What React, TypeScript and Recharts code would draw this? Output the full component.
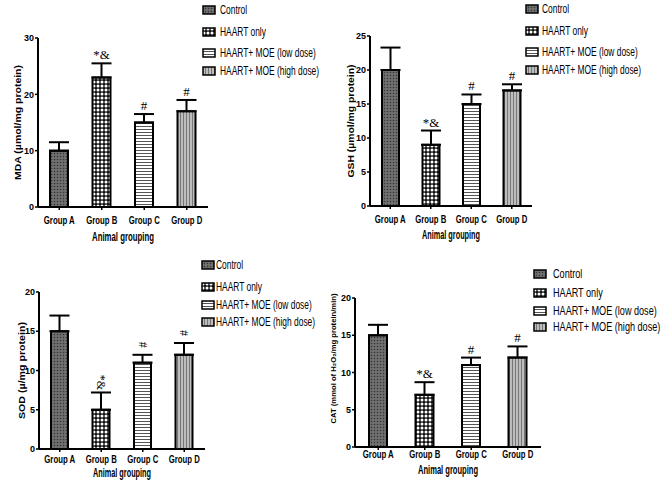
import React from 'react';
import { BarChart, Bar, XAxis, YAxis, Cell, ErrorBar, LabelList } from 'recharts';

// ---------- data ----------
const groups = ['Group A', 'Group B', 'Group C', 'Group D'];
const seriesNames = ['Control', 'HAART only', 'HAART+ MOE (low dose)', 'HAART+ MOE (high dose)'];
const xAxisTitle = 'Animal grouping';

const mdaValues = [10, 23, 15, 17];
const mdaErrors = [1.5, 2.5, 1.5, 2];
const mdaMarks = ['', '*&', '#', '#'];
const mdaTicks = [0, 10, 20, 30];

const gshValues = [20, 9, 15, 17];
const gshErrors = [3.3, 2.1, 1.4, 0.9];
const gshMarks = ['', '*&', '#', '#'];
const gshTicks = [0, 5, 10, 15, 20, 25];

const sodValues = [15, 5, 11, 12];
const sodErrors = [2, 2.2, 1, 1.5];
const sodMarks = ['', '*&', '#', '#'];
const sodTicks = [0, 5, 10, 15, 20];

const catValues = [15, 7, 11, 12];
const catErrors = [1.4, 1.7, 1, 1.5];
const catMarks = ['', '*&', '#', '#'];
const catTicks = [0, 5, 10, 15, 20];

// ---------- styles ----------
const SANS = '"Liberation Sans", Arial, sans-serif';
const SERIF = '"Liberation Serif", "Times New Roman", serif';
const patternIds = ['pControl', 'pHaart', 'pLow', 'pHigh'];

function Patterns() {
  return (
    <svg width={0} height={0} style={{ position: 'absolute' }}>
      <defs>
        <pattern id="pControl" width={3} height={3} patternUnits="userSpaceOnUse">
          <rect width={3} height={3} fill="#666" />
          <rect width={1} height={1} fill="#333" />
          <rect x={1.5} y={1.5} width={1} height={1} fill="#8c8c8c" />
        </pattern>
        <pattern id="pHaart" width={4} height={4} patternUnits="userSpaceOnUse">
          <rect width={4} height={4} fill="#111" />
          <circle cx={2} cy={2} r={1.5} fill="#fff" />
        </pattern>
        <pattern id="pLow" width={3} height={3} patternUnits="userSpaceOnUse">
          <rect width={3} height={3} fill="#fff" />
          <rect width={3} height={1} fill="#555" />
        </pattern>
        <pattern id="pHigh" width={3} height={3} patternUnits="userSpaceOnUse">
          <rect width={3} height={3} fill="#bdbdbd" />
          <rect width={1} height={3} fill="#777" />
        </pattern>
      </defs>
    </svg>
  );
}

type Layout = {
  left: number; top: number; w: number; h: number;
  L: number; T: number; R: number; B: number;
  xAxisH: number; barSize: number; xTickDy: number;
  yLabelX: number; yLabelShift: number; yLabelSize: number; yLabelLen: number;
  xLabelLen: number;
  swatchX: number; textX: number; rows: number[]; legendFont: number;
  rotateMark?: boolean;
};

type PanelProps = {
  values: number[]; errors: number[]; marks: string[]; ticks: number[];
  yTitle: string; lay: Layout;
};

function Panel({ values, errors, marks, ticks, yTitle, lay }: PanelProps) {
  const rows = groups.map((g, i) => ({ group: g, value: values[i], err: [0, errors[i]], mark: marks[i] }));
  const yMax = ticks[ticks.length - 1];

  const markContent = (p: any) => {
    const i = p.index;
    const m = marks[i];
    if (!m) return null;
    const vb = p.viewBox && typeof p.viewBox.x === 'number' ? p.viewBox : p;
    const x = Number(vb.x), y = Number(vb.y), wd = Number(vb.width), ht = Number(vb.height);
    const errTop = y - (ht * errors[i]) / values[i];
    const cx = x + wd / 2;
    if (lay.rotateMark) {
      const cy = errTop - 10;
      return (
        <text x={cx} y={cy} transform={`rotate(90, ${cx}, ${cy})`} textAnchor="middle" dominantBaseline="central"
          fontSize={12} fontFamily={SERIF} fill="#000">{m}</text>
      );
    }
    return (
      <text x={cx} y={errTop - 4} textAnchor="middle" fontSize={13} fontFamily={SERIF} fill="#000">{m}</text>
    );
  };

  const yLabel = (p: any) => {
    const vb = p.viewBox || { x: 0, y: lay.T, width: lay.L, height: lay.B - lay.T };
    const cx = lay.yLabelX;
    const cy = vb.y + vb.height / 2 + lay.yLabelShift;
    return (
      <text x={cx} y={cy} transform={`rotate(-90, ${cx}, ${cy})`} textAnchor="middle" dominantBaseline="central"
        fontSize={lay.yLabelSize} fontWeight="bold" fontFamily={SANS} fill="#000"
        textLength={lay.yLabelLen} lengthAdjust="spacingAndGlyphs">{yTitle}</text>
    );
  };

  const xLabel = (p: any) => {
    const vb = p.viewBox || { x: lay.L, y: lay.B, width: lay.R - lay.L, height: lay.xAxisH };
    const cx = vb.x + vb.width / 2;
    const cy = vb.y + vb.height - 5;
    return (
      <text x={cx} y={cy} textAnchor="middle" dominantBaseline="central" fontSize={12} fontWeight="bold"
        fontFamily={SANS} fill="#000" textLength={lay.xLabelLen} lengthAdjust="spacingAndGlyphs">{xAxisTitle}</text>
    );
  };

  const xTick = (p: any) => (
    <text x={p.x} y={p.y + lay.xTickDy} textAnchor="middle" dominantBaseline="hanging" fontSize={11} fontWeight="bold"
      fontFamily={SANS} fill="#000" textLength={31} lengthAdjust="spacingAndGlyphs">{p.payload.value}</text>
  );

  return (
    <div style={{ position: 'absolute', left: lay.left, top: lay.top, width: lay.w, height: lay.h }}>
      <BarChart width={lay.w} height={lay.h} data={rows}
        margin={{ top: lay.T, right: lay.w - lay.R, bottom: lay.h - lay.B - lay.xAxisH, left: 0 }}>
        <XAxis dataKey="group" height={lay.xAxisH} interval={0} tickSize={3} tickMargin={2}
          axisLine={{ stroke: '#000', strokeWidth: 2 }} tickLine={{ stroke: '#000', strokeWidth: 1.5 }}
          tick={xTick} label={xLabel} />
        <YAxis width={lay.L} domain={[0, yMax]} ticks={ticks} interval={0} tickSize={3} tickMargin={1}
          axisLine={{ stroke: '#000', strokeWidth: 2 }} tickLine={{ stroke: '#000', strokeWidth: 1.5 }}
          tick={{ fontSize: 9, fontWeight: 'bold', fill: '#000', fontFamily: SANS }}
          label={yLabel} />
        <Bar dataKey="value" barSize={lay.barSize} stroke="#000" strokeWidth={2} isAnimationActive={false}>
          {rows.map((r, i) => <Cell key={r.group} fill={`url(#${patternIds[i]})`} />)}
          <ErrorBar dataKey="err" direction="y" width={10} stroke="#000" strokeWidth={2} isAnimationActive={false} />
          <LabelList dataKey="mark" content={markContent} />
        </Bar>
      </BarChart>
      {seriesNames.map((name, i) => (
        <div key={name} style={{ position: 'absolute', left: 0, top: lay.rows[i] - lay.top - 8, height: 16, width: lay.w }}>
          <svg width={14} height={10} style={{ position: 'absolute', left: lay.swatchX - lay.left, top: 3 }}>
            <rect x={1} y={1} width={12} height={8} fill={`url(#${patternIds[i]})`} stroke="#000" strokeWidth={1.5} />
          </svg>
          <span style={{ position: 'absolute', left: lay.textX - lay.left, top: 0, lineHeight: '16px', fontSize: lay.legendFont,
            fontFamily: SANS, color: '#000', whiteSpace: 'nowrap', transform: 'scaleX(0.7)', transformOrigin: 'left center' }}>{name}</span>
        </div>
      ))}
    </div>
  );
}

const lay1: Layout = { left: 0, top: 0, w: 330, h: 250, L: 38, T: 38, R: 208, B: 207, xAxisH: 35, barSize: 18, xTickDy: 4,
  yLabelX: 18, yLabelShift: 0, yLabelSize: 9, yLabelLen: 115, xLabelLen: 62,
  swatchX: 202, textX: 220, rows: [10, 32, 53, 71], legendFont: 12 };
const lay2: Layout = { left: 330, top: 0, w: 334, h: 250, L: 40, T: 36, R: 202, B: 206, xAxisH: 34, barSize: 17, xTickDy: 4,
  yLabelX: 21, yLabelShift: 0, yLabelSize: 9, yLabelLen: 113, xLabelLen: 58,
  swatchX: 525, textX: 542, rows: [9, 31, 52, 70], legendFont: 12 };
const lay3: Layout = { left: 0, top: 250, w: 330, h: 230, L: 39, T: 42, R: 205, B: 199, xAxisH: 29, barSize: 17, xTickDy: 1,
  yLabelX: 22, yLabelShift: 0, yLabelSize: 9, yLabelLen: 97, xLabelLen: 58,
  swatchX: 201, textX: 216, rows: [265, 287, 305, 322], legendFont: 12, rotateMark: true };
const lay4: Layout = { left: 320, top: 250, w: 344, h: 230, L: 35, T: 48, R: 221, B: 197, xAxisH: 28, barSize: 18, xTickDy: -2,
  yLabelX: 13, yLabelShift: -14, yLabelSize: 8, yLabelLen: 130, xLabelLen: 60,
  swatchX: 533, textX: 553, rows: [274, 293, 311, 327], legendFont: 13 };

export default function App() {
  return (
    <div style={{ position: 'absolute', left: 0, top: 0, width: 664, height: 480, background: '#fff', overflow: 'hidden' }}>
      <Patterns />
      <Panel values={mdaValues} errors={mdaErrors} marks={mdaMarks} ticks={mdaTicks} yTitle="MDA (µmol/mg protein)" lay={lay1} />
      <Panel values={gshValues} errors={gshErrors} marks={gshMarks} ticks={gshTicks} yTitle="GSH (µmol/mg protein)" lay={lay2} />
      <Panel values={sodValues} errors={sodErrors} marks={sodMarks} ticks={sodTicks} yTitle="SOD (µ/mg protein)" lay={lay3} />
      <Panel values={catValues} errors={catErrors} marks={catMarks} ticks={catTicks} yTitle="CAT (mmol of H₂O₂/mg protein/min)" lay={lay4} />
    </div>
  );
}
